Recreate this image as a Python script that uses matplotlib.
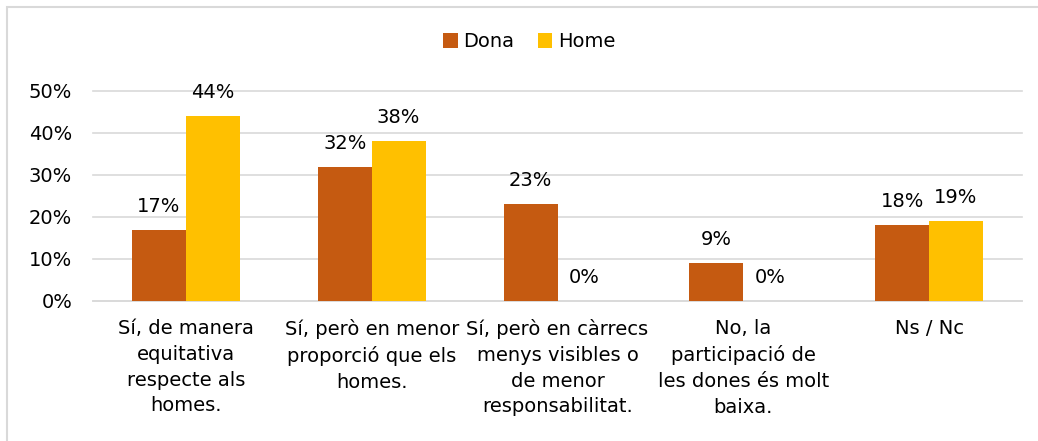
import numpy as np
import matplotlib
matplotlib.use("Agg")
import matplotlib.pyplot as plt
from matplotlib.patches import Rectangle

plt.rcParams['font.family'] = ['DejaVu Sans']

categories = ['Sí, de manera\nequitativa\nrespecte als\nhomes.',
              'Sí, però en menor\nproporció que els\nhomes.',
              'Sí, però en càrrecs\nmenys visibles o\nde menor\nresponsabilitat.',
              'No, la\nparticipació de\nles dones és molt\nbaixa.',
              'Ns / Nc']
dona = [17, 32, 23, 9, 18]
home = [44, 38, 0, 0, 19]
yticks = [0, 10, 20, 30, 40, 50]

x = np.arange(len(categories))
width = 0.29
fs = 14

fig = plt.figure(figsize=(10.38, 4.41), dpi=100)
ax = fig.add_axes([0.0896, 0.3175, 0.895, 0.4762])

# outer frame of the chart area
fig.patches.append(Rectangle((7/1038, -0.1), 1.2, 1 - 7/441 + 0.1, transform=fig.transFigure,
                             fill=False, edgecolor='#d9d9d9', linewidth=1.5))

b1 = ax.bar(x - width/2, dona, width, color='#C55A11', label='Dona', zorder=3)
b2 = ax.bar(x + width/2, home, width, color='#FFC000', label='Home', zorder=3)

ax.set_ylim(0, 50)
ax.set_xlim(-0.5, len(categories) - 0.5)
ax.set_yticks(yticks)
ax.set_yticklabels(['{}%'.format(v) for v in yticks], fontsize=fs)
ax.set_xticks(x)
ax.set_xticklabels(categories, fontsize=fs, linespacing=1.45, va='top')
ax.tick_params(axis='y', length=0, pad=15)
ax.tick_params(axis='x', length=0, pad=13)
ax.grid(axis='y', color='#d9d9d9', linewidth=1.2, zorder=0)
for gl in ax.get_ygridlines():
    gl.set_clip_on(False)
for s in ['top', 'right', 'left']:
    ax.spines[s].set_visible(False)
ax.spines['bottom'].set_color('#d9d9d9')
ax.spines['bottom'].set_linewidth(1.2)


def autolabel(rects):
    for rect in rects:
        height = rect.get_height()
        ax.annotate('{}%'.format(height),
                    xy=(rect.get_x() + rect.get_width() / 2, height),
                    xytext=(0, 10), textcoords="offset points",
                    ha='center', va='bottom', fontsize=fs)


autolabel(b1)
autolabel(b2)

fig.legend(loc='center', bbox_to_anchor=(0.51, 0.905), ncol=2, frameon=False,
           fontsize=fs, handlelength=0.75, handleheight=0.75, handletextpad=0.3,
           columnspacing=1.2)

fig.savefig('out.png', dpi=100)
